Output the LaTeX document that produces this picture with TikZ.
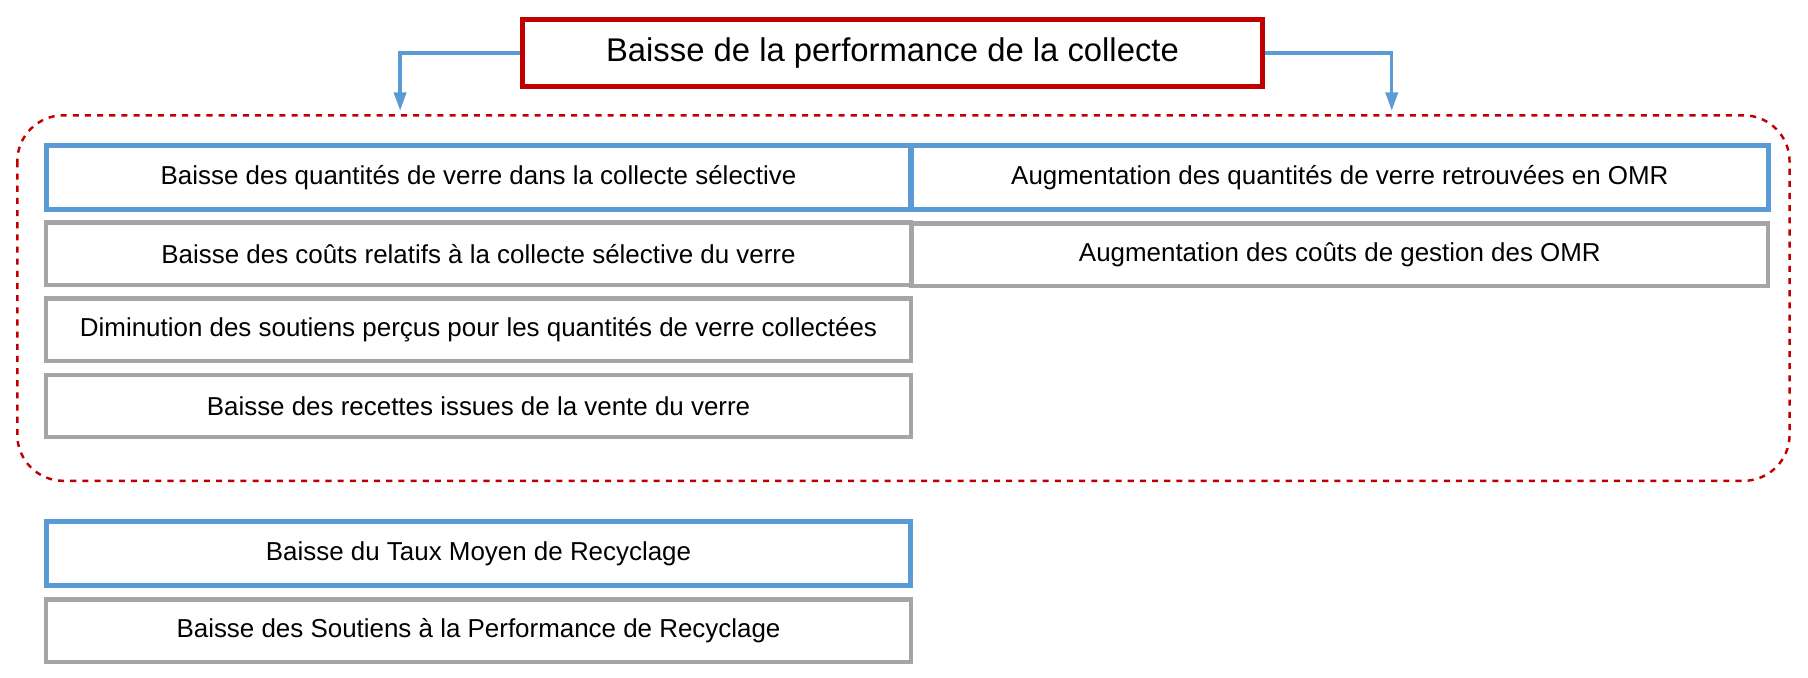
\documentclass[tikz,border=0pt]{standalone}
\usepackage{fontspec}
\setmainfont{Liberation Sans}
\usetikzlibrary{arrows.meta}
\definecolor{boxblue}{RGB}{91,155,213}
\definecolor{boxred}{RGB}{192,0,0}
\definecolor{boxgray}{RGB}{165,165,165}
\begin{document}
\begin{tikzpicture}
[x=0.02cm,y=-0.02cm,%
  every node/.style={inner sep=0pt,font=\fontsize{12.8}{14}\selectfont},%
  blue box/.style={draw=boxblue,line width=2.6pt,fill=white,minimum height=1.12cm},%
  gray box/.style={draw=boxgray,line width=2.2pt,fill=white,minimum height=1.08cm},%
  link/.style={draw=boxblue,line width=1.6pt,-{Triangle[width=6pt,length=9pt]}}]
\useasboundingbox (0,0) rectangle (1568,588);
\draw[boxred,dashed,line width=1.2pt,rounded corners=0.8cm] (15,100) rectangle (1552,417);
\node[draw=boxred,line width=2.8pt,fill=white,minimum width=12.84cm,minimum height=1.16cm,
  font=\fontsize{16.2}{18}\selectfont] (title) at (774,46) {Baisse de la performance de la collecte};
\coordinate (lend) at (347,96);
\coordinate (rend) at (1207,96);
\draw[link] (title.west) -| (lend);
\draw[link] (title.east) -| (rend);
% left column
\node[gray box,minimum width=15cm] (l2) at (415,220) {Baisse des coûts relatifs à la collecte sélective du verre};
\node[gray box,minimum width=15cm] (l3) at (415,286) {Diminution des soutiens perçus pour les quantités de verre collectées};
\node[gray box,minimum width=15cm] (l4) at (415,352) {Baisse des recettes issues de la vente du verre};
% right column
\node[gray box,minimum width=14.86cm] (r2) at (1162,221) {Augmentation des coûts de gestion des OMR};
\node[blue box,minimum width=15cm] (l1) at (415,154) {Baisse des quantités de verre dans la collecte sélective};
\node[blue box,minimum width=14.86cm] (r1) at (1162,154) {Augmentation des quantités de verre retrouvées en OMR};
% bottom
\node[gray box,minimum width=15cm] (b2) at (415,547) {Baisse des Soutiens à la Performance de Recyclage};
\node[blue box,minimum width=15cm] (b1) at (415,480) {Baisse du Taux Moyen de Recyclage};
\end{tikzpicture}
\end{document}
